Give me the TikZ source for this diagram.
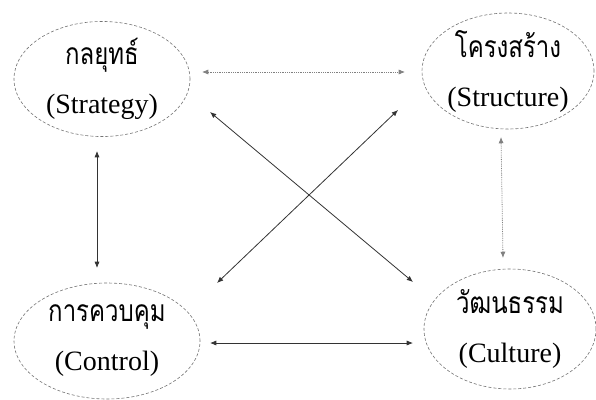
\documentclass[tikz,border=0pt]{standalone}
\usepackage{fontspec}
\setmainfont{Liberation Serif}
\newfontfamily\thaifont[Script=Thai,FakeStretch=0.8]{Loma}
\usetikzlibrary{arrows.meta,shapes.geometric}

\begin{document}
\begin{tikzpicture}[
  x=1pt, y=-1pt,
  part/.style={
    ellipse,
    draw=black!55,
    densely dashed,
    line width=0.6pt,
    inner sep=0pt,
    align=center,
    font=\fontsize{28}{30}\selectfont
  },
  link/.style={{Latex[length=2.2mm,width=1.8mm]}-{Latex[length=2.2mm,width=1.8mm]},line width=0.8pt,draw=black!80},
  dots/.style={link,densely dotted,draw=gray}
]
\useasboundingbox (0,0) rectangle (596,399);
\node[part, minimum width=176pt, minimum height=114pt] (strategy) at (102,79)
  {{\thaifont\fontsize{30}{30}\selectfont กลยุทธ์}\\[19pt](Strategy)};
\node[part, minimum width=172pt, minimum height=116pt] (structure) at (508,71)
  {{\thaifont\fontsize{30}{30}\selectfont โครงสร้าง}\\[19pt](Structure)};
\node[part, minimum width=186pt, minimum height=116pt] (control) at (107,341)
  {{\thaifont\fontsize{30}{30}\selectfont การควบคุม}\\[19pt](Control)};
\node[part, minimum width=172pt, minimum height=120pt] (culture) at (510,329)
  {{\thaifont\fontsize{30}{30}\selectfont วัฒนธรรม}\\[19pt](Culture)};
% arrow ends
\coordinate (strategy-r) at (202,72);
\coordinate (structure-l) at (405,72);
\coordinate (strategy-b) at (97,151);
\coordinate (control-t) at (97,268);
\coordinate (structure-b) at (501,137);
\coordinate (culture-t) at (503,258);
\coordinate (control-r) at (210,343);
\coordinate (culture-l) at (413,343);
\coordinate (strategy-x) at (210,112);
\coordinate (culture-x) at (413,282);
\coordinate (structure-x) at (398,110);
\coordinate (control-x) at (217,283);
\draw[dots] (strategy-r) -- (structure-l);
\draw[link] (strategy-b) -- (control-t);
\draw[dots] (structure-b) -- (culture-t);
\draw[link] (control-r) -- (culture-l);
\draw[link] (strategy-x) -- (culture-x);
\draw[link] (structure-x) -- (control-x);
\end{tikzpicture}
\end{document}
